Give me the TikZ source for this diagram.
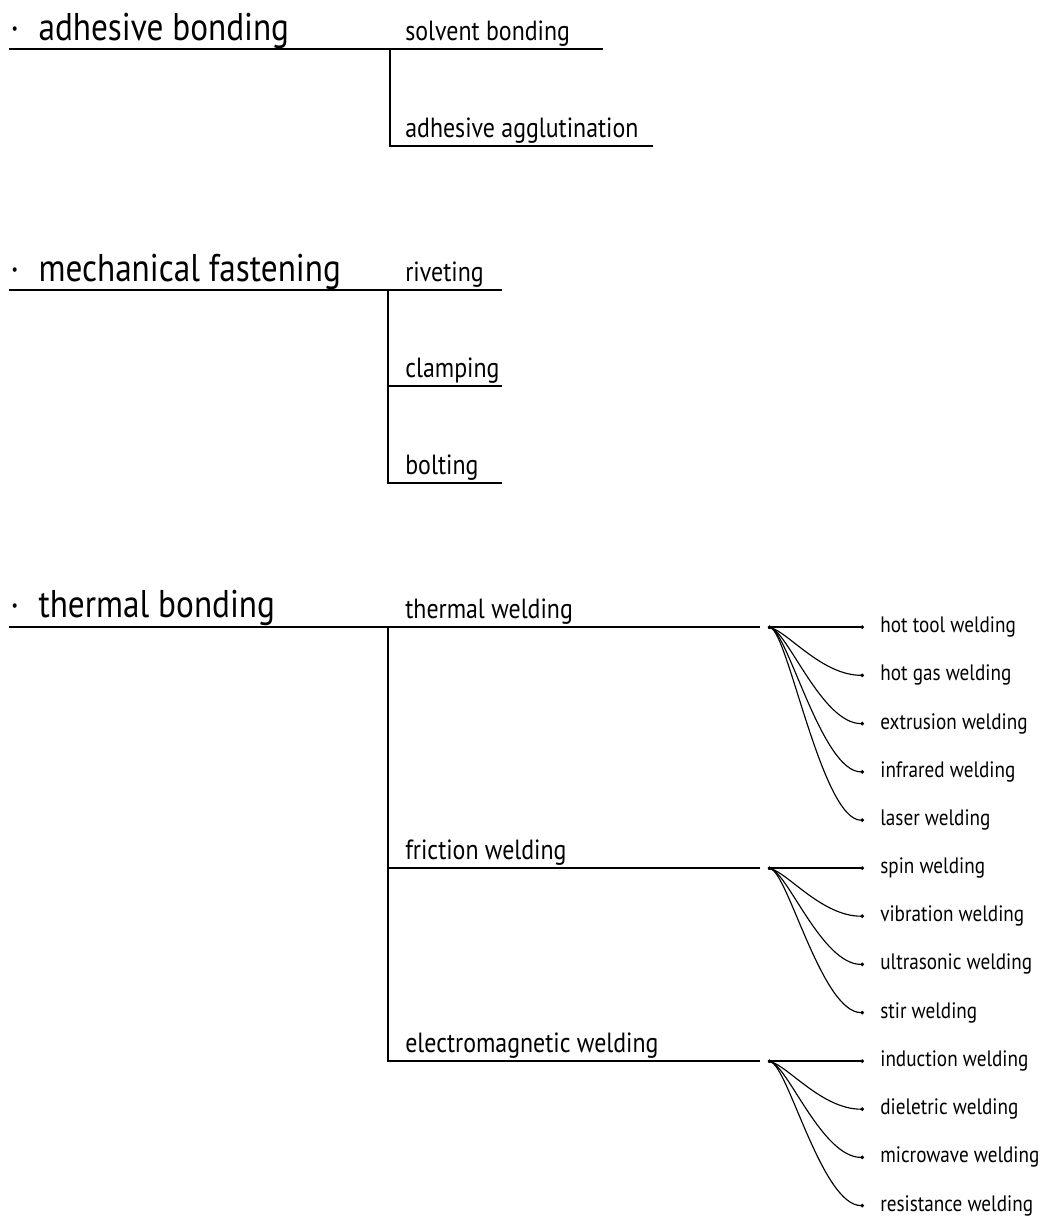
\documentclass[tikz,border=0pt]{standalone}
\usepackage{fontspec}
\setmainfont{PT Sans}[FakeStretch=0.86]
\usetikzlibrary{arrows.meta,positioning}
\tikzset{
  group/.style={anchor=base west,inner sep=0pt,font=\fontsize{22}{25}\selectfont},
  branch/.style={anchor=base west,inner sep=0pt,font=\fontsize{15.8}{18}\selectfont},
  leaf/.style={anchor=west,inner ysep=0pt,inner xsep=0.32cm,font=\fontsize{12.7}{15}\selectfont},
  mainline/.style={line width=1.1pt},
  subline/.style={line width=0.75pt},
  fan/.style={line width=0.65pt,{Circle[length=1.7pt]}-{Circle[length=2pt]}}
}
\begin{document}
\begin{tikzpicture}[x=0.02cm,y=-0.02cm]
\useasboundingbox (0,0) rectangle (1054,1221);

% adhesive bonding
\node[group] (adh) at (10,40) {·\hspace{0.5em}adhesive bonding};
\node[branch] (solv) at (405,40) {solvent bonding};
\node[branch] (aggl) at (405,137) {adhesive agglutination};
\coordinate (adhL) at (9,49);
\coordinate (adhJ) at (390,49);
\coordinate (adhK) at (390,146);
\coordinate (solvE) at (603,49);
\coordinate (agglE) at (653,146);
\draw[mainline] (adhL) -- (adhJ);
\draw[subline] (adhJ) -- (solvE);
\draw[subline] (adhJ) -- (adhK) -- (agglE);

% mechanical fastening
\node[group] (mech) at (10,281) {·\hspace{0.5em}mechanical fastening};
\node[branch] (rivet) at (405,281) {riveting};
\node[branch] (clamp) at (405,377) {clamping};
\node[branch] (bolt) at (405,474) {bolting};
\coordinate (mechL) at (9,290);
\coordinate (mechJ) at (388,290);
\coordinate (mechK) at (388,386);
\coordinate (mechM) at (388,483);
\coordinate (rivetE) at (502,290);
\coordinate (clampE) at (502,386);
\coordinate (boltE) at (502,483);
\draw[mainline] (mechL) -- (mechJ);
\draw[subline] (mechJ) -- (rivetE);
\draw[subline] (mechK) -- (clampE);
\draw[subline] (mechJ) -- (mechM) -- (boltE);

% thermal bonding
\node[group] (therm) at (10,617) {·\hspace{0.5em}thermal bonding};
\node[branch] (tweld) at (405,618) {thermal welding};
\node[branch] (fweld) at (405,859) {friction welding};
\node[branch] (eweld) at (405,1052) {electromagnetic welding};
\coordinate (thermL) at (9,627);
\coordinate (thermJ) at (388,627);
\coordinate (thermK) at (388,868);
\coordinate (thermM) at (388,1061);
\coordinate (tweldE) at (760,627);
\coordinate (fweldE) at (760,868);
\coordinate (eweldE) at (760,1061);
\coordinate (tfan) at (768,627);
\coordinate (ffan) at (768,868);
\coordinate (efan) at (768,1061);
\draw[mainline] (thermL) -- (thermJ);
\draw[subline] (thermJ) -- (tweldE);
\draw[subline] (thermK) -- (fweldE);
\draw[subline] (thermJ) -- (thermM) -- (eweldE);

% welding methods
\foreach \txt [count=\i from 0] in {hot tool welding, hot gas welding, extrusion welding, infrared welding, laser welding} {
  \pgfmathsetmacro\dy{\i==0 ? 0 : 5}
  \node[leaf] (tw\i) at (864,627+48.3*\i) {\txt};
  \draw[fan] (tfan) .. controls +(20,\dy) and +(-42,0) .. (tw\i.west);
}
\foreach \txt [count=\i from 0] in {spin welding, vibration welding, ultrasonic welding, stir welding} {
  \pgfmathsetmacro\dy{\i==0 ? 0 : 5}
  \node[leaf] (fw\i) at (864,868+48.2*\i) {\txt};
  \draw[fan] (ffan) .. controls +(20,\dy) and +(-42,0) .. (fw\i.west);
}
\foreach \txt [count=\i from 0] in {induction welding, dieletric welding, microwave welding, resistance welding} {
  \pgfmathsetmacro\dy{\i==0 ? 0 : 5}
  \node[leaf] (ew\i) at (864,1061+48.2*\i) {\txt};
  \draw[fan] (efan) .. controls +(20,\dy) and +(-42,0) .. (ew\i.west);
}
\end{tikzpicture}
\end{document}
